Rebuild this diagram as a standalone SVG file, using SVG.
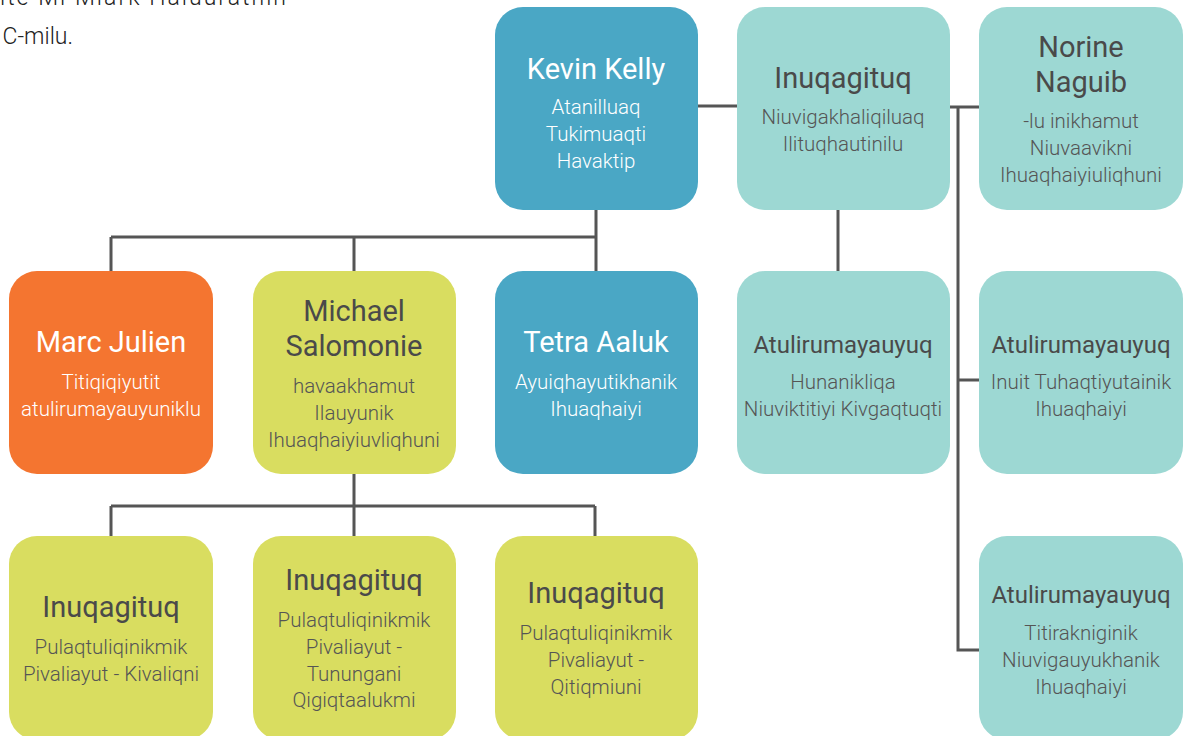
<svg xmlns="http://www.w3.org/2000/svg" width="1189" height="736" viewBox="0 0 1189 736">
<style>
.bl{fill:#4aa7c5}.tl{fill:#9dd8d3}.or{fill:#f47530}.yg{fill:#d9dd60}
text{font-family:Roboto,"Liberation Sans",sans-serif;text-anchor:middle}
.t{font-size:29px;font-weight:400}
.ts{font-size:24px;font-weight:400}
.s{font-size:20.5px;font-weight:300}
.w{fill:#ffffff}.d{fill:#4a4a4a}.g{fill:#555555}
.c{stroke:#555555;stroke-width:3;fill:none}
.intro{font-size:23px;font-weight:300;fill:#222;text-anchor:end}
</style>
<rect width="1189" height="736" fill="#ffffff"/>
<text class="intro" x="286" y="5" textLength="286" lengthAdjust="spacing">ite Mi Miark Haluuratnin</text>
<text class="intro" x="73" y="44">C-milu.</text>
<g id="connectors">
<path class="c" d="M596 210V237M111 237H596M111 237V271M354 237V271M596 237V271"/>
<path class="c" d="M354 474V506M111 506H595M111 506V536M354 506V536M595 506V536"/>
<path class="c" d="M698 106H737"/>
<path class="c" d="M838 210V271"/>
<path class="c" d="M950 107H979M958 107V650H979M958 380H979"/>
</g>
<g id="kevin"><rect class="bl" x="495" y="7" width="203" height="203" rx="28"/>
<text class="t w" x="596" y="79">Kevin Kelly</text>
<text class="s w" x="596" y="114">Atanilluaq</text><text class="s w" x="596" y="141">Tukimuaqti</text><text class="s w" x="596" y="168">Havaktip</text></g>
<g id="inuq-top"><rect class="tl" x="737" y="7" width="213" height="203" rx="28"/>
<text class="t d" x="843" y="88">Inuqagituq</text>
<text class="s g" x="843" y="124">Niuvigakhaliqiluaq</text><text class="s g" x="843" y="151">Ilituqhautinilu</text></g>
<g id="norine"><rect class="tl" x="979" y="7" width="204" height="203" rx="28"/>
<text class="t d" x="1081" y="57">Norine</text><text class="t d" x="1081" y="92">Naguib</text>
<text class="s g" x="1081" y="128">-lu inikhamut</text><text class="s g" x="1081" y="155">Niuvaavikni</text><text class="s g" x="1081" y="182">Ihuaqhaiyiuliqhuni</text></g>
<g id="marc"><rect class="or" x="9" y="271" width="204" height="203" rx="28"/>
<text class="t w" x="111" y="352">Marc Julien</text>
<text class="s w" x="111" y="389">Titiqiqiyutit</text><text class="s w" x="111" y="416">atulirumayauyuniklu</text></g>
<g id="michael"><rect class="yg" x="253" y="271" width="203" height="203" rx="28"/>
<text class="t d" x="354" y="321">Michael</text><text class="t d" x="354" y="356">Salomonie</text>
<text class="s g" x="354" y="393">havaakhamut</text><text class="s g" x="354" y="420">Ilauyunik</text><text class="s g" x="354" y="447">Ihuaqhaiyiuvliqhuni</text></g>
<g id="tetra"><rect class="bl" x="495" y="271" width="203" height="203" rx="28"/>
<text class="t w" x="596" y="352">Tetra Aaluk</text>
<text class="s w" x="596" y="389">Ayuiqhayutikhanik</text><text class="s w" x="596" y="416">Ihuaqhaiyi</text></g>
<g id="atul-mid"><rect class="tl" x="737" y="271" width="213" height="203" rx="28"/>
<text class="ts d" x="843" y="353">Atulirumayauyuq</text>
<text class="s g" x="843" y="389">Hunanikliqa</text><text class="s g" x="843" y="416">Niuviktitiyi Kivgaqtuqti</text></g>
<g id="atul-right"><rect class="tl" x="979" y="271" width="204" height="203" rx="28"/>
<text class="ts d" x="1081" y="353">Atulirumayauyuq</text>
<text class="s g" x="1081" y="389">Inuit Tuhaqtiyutainik</text><text class="s g" x="1081" y="416">Ihuaqhaiyi</text></g>
<g id="inuq-b1"><rect class="yg" x="9" y="536" width="204" height="204" rx="28"/>
<text class="t d" x="111" y="617">Inuqagituq</text>
<text class="s g" x="111" y="654">Pulaqtuliqinikmik</text><text class="s g" x="111" y="681">Pivaliayut - Kivaliqni</text></g>
<g id="inuq-b2"><rect class="yg" x="253" y="536" width="203" height="204" rx="28"/>
<text class="t d" x="354" y="590">Inuqagituq</text>
<text class="s g" x="354" y="627">Pulaqtuliqinikmik</text><text class="s g" x="354" y="654">Pivaliayut -</text><text class="s g" x="354" y="681">Tunungani</text><text class="s g" x="354" y="707">Qigiqtaalukmi</text></g>
<g id="inuq-b3"><rect class="yg" x="495" y="536" width="203" height="204" rx="28"/>
<text class="t d" x="596" y="603">Inuqagituq</text>
<text class="s g" x="596" y="640">Pulaqtuliqinikmik</text><text class="s g" x="596" y="667">Pivaliayut -</text><text class="s g" x="596" y="694">Qitiqmiuni</text></g>
<g id="atul-bottom"><rect class="tl" x="979" y="536" width="204" height="204" rx="28"/>
<text class="ts d" x="1081" y="603">Atulirumayauyuq</text>
<text class="s g" x="1081" y="640">Titirakniginik</text><text class="s g" x="1081" y="667">Niuvigauyukhanik</text><text class="s g" x="1081" y="694">Ihuaqhaiyi</text></g>
</svg>
